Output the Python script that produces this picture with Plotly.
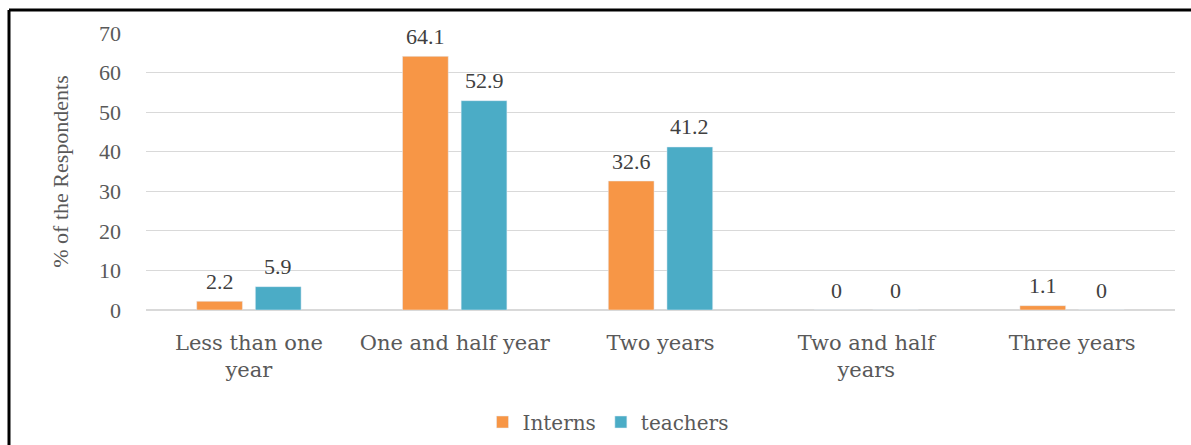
import plotly.graph_objects as go

categories = ["Less than one<br>year", "One and half year", "Two years", "Two and half<br>years", "Three years"]
interns = [2.2, 64.1, 32.6, 0, 1.1]
teachers = [5.9, 52.9, 41.2, 0, 0]
y_ticks = [0, 10, 20, 30, 40, 50, 60, 70]

W, H = 1191, 445
L, R, T, B = 146, 16, 33, 135
SERIF = "Liberation Serif"
WIDE = "DejaVu Serif"
GREY = "#595959"
BARGAP = 0.43
GROUPGAP = 0.22

fig = go.Figure()
fig.add_trace(go.Bar(name="Interns", x=categories, y=interns, marker_color="#F79646"))
fig.add_trace(go.Bar(name="teachers", x=categories, y=teachers, marker_color="#4BACC6"))

pw = W - L - R
ph = H - T - B
def px_x(x):
    return (x - L) / pw
def px_y(y):
    return (H - B - y) / ph

slot = (1 - BARGAP) * (pw / len(categories)) / 2
annotations = []
for series, shift in ((interns, -slot / 2), (teachers, slot / 2)):
    for c, v in zip(categories, series):
        annotations.append(dict(x=c, y=v, xref="x", yref="y", text=str(v), showarrow=False,
                                xshift=shift, yshift=20, yanchor="middle",
                                font=dict(family=SERIF, size=22, color="#404040")))

fig.update_layout(
    width=W, height=H,
    margin=dict(l=L, r=R, t=T, b=B, autoexpand=False),
    paper_bgcolor="white", plot_bgcolor="white",
    barmode="group", bargap=BARGAP, bargroupgap=GROUPGAP,
    font=dict(family=SERIF, color=GREY, size=20),
    showlegend=True,
    legend=dict(orientation="h", x=px_x(608), xanchor="center", y=px_y(422), yanchor="middle",
                font=dict(family=WIDE, size=20, color=GREY), itemwidth=30),
    xaxis=dict(showgrid=False, showline=False, ticks="", ticklabelstandoff=18, automargin=False,
               tickfont=dict(family=WIDE, size=21, color=GREY)),
    yaxis=dict(range=[0, 70], tickvals=y_ticks, showgrid=True, gridcolor="#D9D9D9", gridwidth=1,
               zeroline=True, zerolinecolor="#D9D9D9", zerolinewidth=1.5, automargin=False,
               tickfont=dict(family=SERIF, size=22, color=GREY), ticklabelstandoff=24,
               title=dict(text="% of the Respondents", font=dict(family=SERIF, size=22, color=GREY), standoff=24)),
    annotations=annotations,
    shapes=[
        dict(type="line", xref="paper", yref="paper", x0=px_x(9), x1=px_x(W), y0=px_y(10), y1=px_y(10),
             line=dict(color="black", width=3)),
        dict(type="line", xref="paper", yref="paper", x0=px_x(9), x1=px_x(9), y0=px_y(10), y1=px_y(H),
             line=dict(color="black", width=3)),
    ],
)

fig.write_html("out.html")
